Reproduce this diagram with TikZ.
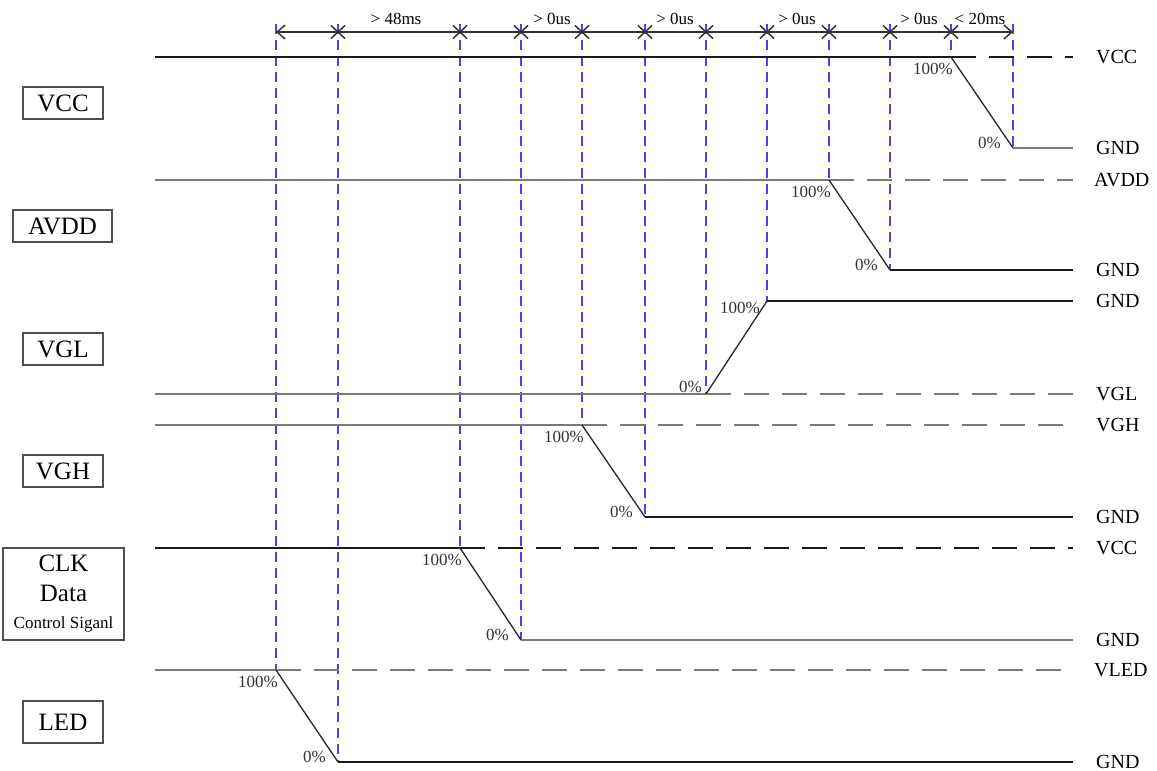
\documentclass[tikz,border=0pt]{standalone}
\usepackage{fontspec}
\setmainfont{Liberation Serif}
\usetikzlibrary{arrows.meta}
\definecolor{GuideBlue}{HTML}{4444F4}
\definecolor{RailGray}{HTML}{7A7A7A}
\definecolor{BoxGray}{HTML}{505050}

\begin{document}
\begin{tikzpicture}[x=1pt, y=-1pt,
    sigbox/.style={draw=BoxGray, line width=1.3pt, minimum width=80pt, minimum height=32pt, inner sep=0pt, align=center, font=\fontsize{25}{30}\selectfont},
    hirail/.style={RailGray, line width=2.6pt},
    hidash/.style={RailGray, line width=2.6pt, dash pattern=on 25pt off 13pt},
    lorail/.style={black!90, line width=1.4pt},
    lodash/.style={black!90, line width=1.4pt, dash pattern=on 25pt off 13pt},
    ramp/.style={black!85, line width=1.3pt},
    guide/.style={GuideBlue, line width=1.5pt, dash pattern=on 10pt off 6pt},
    dimline/.style={black!80, line width=1.5pt},
    pct/.style={font=\fontsize{17}{17}\selectfont, inner sep=0pt, anchor=base east, text=black!80},
    railname/.style={font=\fontsize{20}{20}\selectfont, anchor=west, inner sep=0pt},
    gap/.style={font=\fontsize{17}{17}\selectfont, inner sep=0pt}
  ]
    \useasboundingbox (0,0) rectangle (1157,771);

    % signal boxes
    \node[sigbox] (vcc) at (63,103) {VCC};
    \node[sigbox, minimum width=99pt] (avdd) at (62.5,226) {AVDD};
    \node[sigbox] (vgl) at (63,349) {VGL};
    \node[sigbox] (vgh) at (63,471) {VGH};
    \node[sigbox, minimum width=121pt, minimum height=92pt] (clk) at (63.5,594) {CLK\\Data\\[-3pt]{\fontsize{17}{20}\selectfont Control Siganl}};
    \node[sigbox, minimum height=42pt] (led) at (63,722) {LED};

    % transition points
    \coordinate (vcc-a) at (951,57);   \coordinate (vcc-b) at (1013,148);
    \coordinate (avdd-a) at (829,180); \coordinate (avdd-b) at (890,270);
    \coordinate (vgl-a) at (706,394);  \coordinate (vgl-b) at (767,301);
    \coordinate (vgh-a) at (582,425);  \coordinate (vgh-b) at (645,517);
    \coordinate (clk-a) at (460,548);  \coordinate (clk-b) at (521,640);
    \coordinate (led-a) at (276,670);  \coordinate (led-b) at (338,762);
    \coordinate (top) at (0,24);
    \coordinate (dim) at (0,32);

    % rail names
    \node[railname] (vcc-hi) at (1096,57) {VCC};
    \node[railname] (vcc-lo) at (1096,148) {GND};
    \node[railname] (avdd-hi) at (1094,180) {AVDD};
    \node[railname] (avdd-lo) at (1096,270) {GND};
    \node[railname] (vgl-hi) at (1096,301) {GND};
    \node[railname] (vgl-lo) at (1096,394) {VGL};
    \node[railname] (vgh-hi) at (1096,425) {VGH};
    \node[railname] (vgh-lo) at (1096,517) {GND};
    \node[railname] (clk-hi) at (1096,548) {VCC};
    \node[railname] (clk-lo) at (1096,640) {GND};
    \node[railname] (led-hi) at (1094,670) {VLED};
    \node[railname] (led-lo) at (1096,762) {GND};

    % guides
    \foreach \c in {led-a, led-b, clk-a, clk-b, vgh-a, vgh-b, vgl-a, vgl-b, avdd-a, avdd-b, vcc-a, vcc-b}
      \draw[guide] (\c |- top) -- (\c);

    % waveforms
    \draw[lorail] (155,57) -- (vcc-a);
    \draw[lodash] (vcc-a) -- ([xshift=-23pt]vcc-hi.west);
    \draw[ramp] (vcc-a) -- (vcc-b);
    \draw[hirail] (vcc-b) -- ([xshift=-23pt]vcc-lo.west);

    \draw[hirail] (155,180) -- (avdd-a);
    \draw[hidash] (avdd-a) -- ([xshift=-21pt]avdd-hi.west);
    \draw[ramp] (avdd-a) -- (avdd-b);
    \draw[lorail] (avdd-b) -- ([xshift=-23pt]avdd-lo.west);

    \draw[hirail] (155,394) -- (vgl-a);
    \draw[hidash] (vgl-a) -- ([xshift=-23pt]vgl-lo.west);
    \draw[ramp] (vgl-a) -- (vgl-b);
    \draw[lorail] (vgl-b) -- ([xshift=-23pt]vgl-hi.west);

    \draw[hirail] (155,425) -- (vgh-a);
    \draw[hidash] (vgh-a) -- ([xshift=-23pt]vgh-hi.west);
    \draw[ramp] (vgh-a) -- (vgh-b);
    \draw[lorail] (vgh-b) -- ([xshift=-23pt]vgh-lo.west);

    \draw[lorail] (155,548) -- (clk-a);
    \draw[lodash] (clk-a) -- ([xshift=-23pt]clk-hi.west);
    \draw[ramp] (clk-a) -- (clk-b);
    \draw[hirail] (clk-b) -- ([xshift=-23pt]clk-lo.west);

    \draw[hirail] (155,670) -- (led-a);
    \draw[hidash] (led-a) -- ([xshift=-21pt]led-hi.west);
    \draw[ramp] (led-a) -- (led-b);
    \draw[lorail] (led-b) -- ([xshift=-23pt]led-lo.west);

    % percent marks
    \foreach \s in {vcc, avdd, vgh, clk, led} {
      \node[pct] (\s-full) at ([shift={(2,17)}]\s-a) {100\%};
      \node[pct] (\s-zero) at ([shift={(-12,0)}]\s-b) {0\%};
    }
    \node[pct] (vgl-zero) at ([shift={(-4,-2)}]vgl-a) {0\%};
    \node[pct] (vgl-full) at ([shift={(-7,12)}]vgl-b) {100\%};

    % timing bar
    \draw[dimline, {Straight Barb[length=8pt,width=14pt]}-{Straight Barb[length=8pt,width=14pt]}] (led-a |- dim) -- (vcc-b |- dim);
    \foreach \c in {led-b, clk-a, clk-b, vgh-a, vgh-b, vgl-a, vgl-b, avdd-a, avdd-b, vcc-a} {
      \path (\c |- dim) coordinate (m);
      \draw[dimline] (m) +(-7,-6.5) -- +(7,6.5) (m) +(-7,6.5) -- +(7,-6.5);
    }
    \node[gap] (t1) at (396,19) {> 48ms};
    \node[gap] (t2) at (552,19) {> 0us};
    \node[gap] (t3) at (675,19) {> 0us};
    \node[gap] (t4) at (797,19) {> 0us};
    \node[gap] (t5) at (919,19) {> 0us};
    \node[gap] (t6) at (980,19) {< 20ms};
\end{tikzpicture}
\end{document}
